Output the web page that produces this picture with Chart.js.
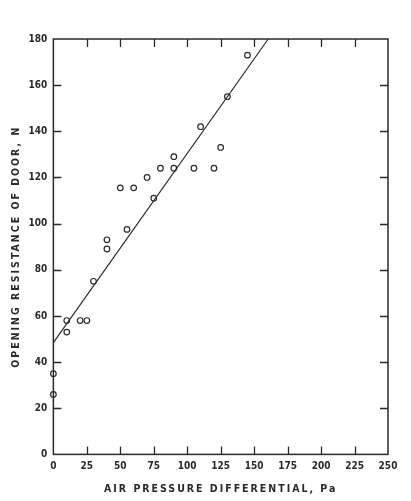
<!DOCTYPE html>
<html>
<head>
<meta charset="utf-8">
<script src="https://cdn.jsdelivr.net/npm/chart.js@4.4.1/dist/chart.umd.min.js"></script>
<style>
  html, body { margin: 0; padding: 0; background: #fff; }
  #wrap { width: 411px; height: 501px; }
</style>
</head>
<body>
<div id="wrap"><canvas id="myChart" width="411" height="501"></canvas></div>
<script>
// measured points
const pressure   = [0, 0, 10, 10, 20, 25, 30, 40, 40, 50, 55, 60, 70, 75, 80, 90, 90, 105, 110, 120, 125, 130, 145];
const resistance = [26, 35, 53, 58, 58, 58, 75, 89, 93, 115.5, 97.5, 115.5, 120, 111, 124, 124, 129, 124, 142, 124, 133, 155, 173];

// fitted line end points
const fitX = [0, 160.5];
const fitY = [48.4, 180];

const xTicks = [0, 25, 50, 75, 100, 125, 150, 175, 200, 225, 250];
const yTicks = [0, 20, 40, 60, 80, 100, 120, 140, 160, 180];

const ink = '#2a2a2a';
const fontFamily = "'DejaVu Sans Condensed', 'Liberation Sans Narrow', 'DejaVu Sans', sans-serif";

// frame + inward tick marks on all four sides
const framePlugin = {
    id: 'frame',
    afterLayout(chart) {
        ['x', 'y'].forEach(id => {
            const s = chart.scales[id];
            if (s && !s._spaced) {
                const orig = s.drawTitle.bind(s);
                s.drawTitle = function () {
                    const c = chart.ctx;
                    c.save();
                    c.letterSpacing = '2px';
                    orig();
                    c.restore();
                };
                s._spaced = true;
            }
        });
    },
    afterDraw(chart) {
        const { ctx, chartArea: a, scales } = chart;
        ctx.save();
        ctx.strokeStyle = ink;
        ctx.lineWidth = 1.5;
        ctx.strokeRect(a.left, a.top, a.right - a.left, a.bottom - a.top);
        ctx.lineWidth = 1.3;
        const len = 8;
        ctx.beginPath();
        xTicks.slice(1, -1).forEach(v => {
            const px = Math.round(scales.x.getPixelForValue(v)) + 0.5;
            ctx.moveTo(px, a.bottom); ctx.lineTo(px, a.bottom - len);
            ctx.moveTo(px, a.top); ctx.lineTo(px, a.top + len);
        });
        yTicks.slice(1, -1).forEach(v => {
            const py = Math.round(scales.y.getPixelForValue(v)) + 0.5;
            ctx.moveTo(a.left, py); ctx.lineTo(a.left + len, py);
            ctx.moveTo(a.right, py); ctx.lineTo(a.right - len, py);
        });
        ctx.stroke();
        ctx.restore();
    }
};

const ctx = document.getElementById('myChart').getContext('2d');
new Chart(ctx, {
    type: 'scatter',
    data: {
        datasets: [{
            type: 'line',
            label: 'fit',
            data: fitX.map((x, i) => ({ x: x, y: fitY[i] })),
            borderColor: ink,
            borderWidth: 1.2,
            pointRadius: 0,
            fill: false
        }, {
            label: 'measured',
            data: pressure.map((x, i) => ({ x: x, y: resistance[i] })),
            pointStyle: 'circle',
            pointRadius: 2.8,
            pointBorderWidth: 1.2,
            pointBackgroundColor: '#fff',
            pointBorderColor: ink
        }]
    },
    options: {
        responsive: false,
        animation: false,
        clip: false,
        layout: { padding: { top: 39, right: 23, left: 4, bottom: 5 } },
        plugins: {
            legend: { display: false },
            tooltip: { enabled: false }
        },
        scales: {
            x: {
                type: 'linear',
                min: 0, max: 250,
                afterBuildTicks: s => { s.ticks = xTicks.map(v => ({ value: v })); },
                grid: { display: false, drawTicks: false },
                border: { display: false },
                ticks: { color: ink, padding: 6, maxRotation: 0, font: { family: fontFamily, size: 10, weight: 'bold' } },
                title: {
                    display: true,
                    text: 'AIR PRESSURE DIFFERENTIAL, Pa',
                    color: ink,
                    padding: { top: 5, bottom: 0 },
                    font: { family: fontFamily, size: 10.5, weight: 'bold' }
                }
            },
            y: {
                type: 'linear',
                min: 0, max: 180,
                afterBuildTicks: s => { s.ticks = yTicks.map(v => ({ value: v })); },
                grid: { display: false, drawTicks: false },
                border: { display: false },
                ticks: { color: ink, padding: 6, font: { family: fontFamily, size: 10, weight: 'bold' } },
                title: {
                    display: true,
                    text: 'OPENING RESISTANCE OF DOOR, N',
                    color: ink,
                    padding: { top: 6, bottom: 0 },
                    font: { family: fontFamily, size: 10.5, weight: 'bold' }
                }
            }
        }
    },
    plugins: [framePlugin]
});
</script>
</body>
</html>
